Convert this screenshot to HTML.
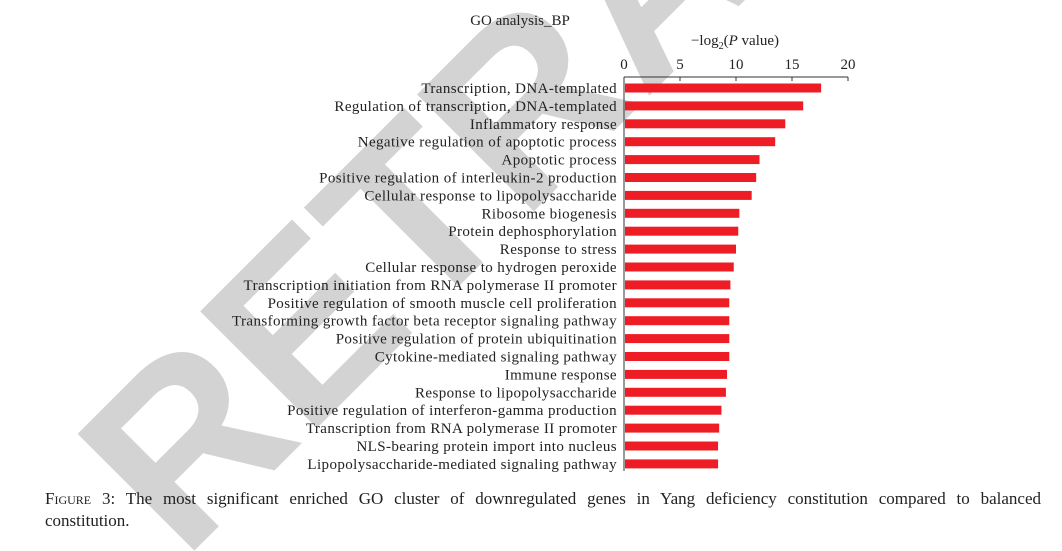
<!DOCTYPE html>
<html><head><meta charset="utf-8"><style>
body{margin:0;background:#fff;width:1062px;height:551px;overflow:hidden;position:relative;font-family:"Liberation Serif",serif;}
svg{position:absolute;left:0;top:0;overflow:hidden}
#cap{position:absolute;left:45px;top:488px;width:996px;font-size:17px;line-height:22px;color:#222;}
#cap .l1{text-align:justify;text-align-last:justify;white-space:nowrap;}
</style></head><body>
<svg width="1062" height="551">
<text x="183" y="562" transform="rotate(-45 183 562)" font-family="Liberation Sans" font-weight="bold" font-size="240" fill="#d3d3d3">RETRACTED</text>
<g id="g"></g>
</svg>
<div id="cap"><div class="l1" style="white-space:normal"><span style="font-variant:small-caps">Figure</span> 3: The most significant enriched GO cluster of downregulated genes in Yang deficiency constitution compared to balanced</div><div>constitution.</div></div>
<script>
const categories=["Transcription, DNA-templated","Regulation of transcription, DNA-templated","Inflammatory response","Negative regulation of apoptotic process","Apoptotic process","Positive regulation of interleukin-2 production","Cellular response to lipopolysaccharide","Ribosome biogenesis","Protein dephosphorylation","Response to stress","Cellular response to hydrogen peroxide","Transcription initiation from RNA polymerase II promoter","Positive regulation of smooth muscle cell proliferation","Transforming growth factor beta receptor signaling pathway","Positive regulation of protein ubiquitination","Cytokine-mediated signaling pathway","Immune response","Response to lipopolysaccharide","Positive regulation of interferon-gamma production","Transcription from RNA polymerase II promoter","NLS-bearing protein import into nucleus","Lipopolysaccharide-mediated signaling pathway"];
const values=[17.6,16.0,14.4,13.5,12.1,11.8,11.4,10.3,10.2,10.0,9.8,9.5,9.4,9.4,9.4,9.4,9.2,9.1,8.7,8.5,8.4,8.4];
const ticks=[0,5,10,15,20];
const NS="http://www.w3.org/2000/svg",g=document.getElementById('g');
const x0=624,x1=848,xMax=20,yTop=88,step=17.9;
const xs=v=>x0+(x1-x0)*v/xMax, ys=i=>yTop+i*step;
function mk(t,a,txt){const e=document.createElementNS(NS,t);for(const k in a)e.setAttribute(k,a[k]);if(txt!=null)e.textContent=txt;g.appendChild(e);return e;}
let e=mk('text',{x:520,y:25,'text-anchor':'middle','font-size':15,fill:'#222'},'GO analysis_BP');


e=mk('text',{x:735,y:45,'text-anchor':'middle','font-size':15,fill:'#222'});
e.innerHTML='−log<tspan font-size="10" dy="4">2</tspan><tspan dy="-4">(</tspan><tspan font-style="italic">P</tspan> value)';


e=mk('line',{x1:x0,y1:77,x2:x1,y2:77,stroke:'#333','stroke-width':1});


e=mk('line',{x1:x0,y1:77,x2:x0,y2:471,stroke:'#333','stroke-width':1});


ticks.forEach(t=>{
 let l=mk('line',{x1:xs(t),y1:77,x2:xs(t),y2:81,stroke:'#333'});
 
 
 let s=mk('text',{x:xs(t),y:69,'text-anchor':'middle','font-size':15,fill:'#222'},t);
 
 
});
categories.forEach((c,i)=>{
 let b=mk('rect',{x:x0+1,y:ys(i)-4.5,width:xs(values[i])-x0-1,height:9,fill:'#ee1c25'});
 
 
 let s=mk('text',{x:617,y:ys(i)+5,'text-anchor':'end','font-size':15,'letter-spacing':0.4,fill:'#222'},c);
 
 
});
</script>
</body></html>
